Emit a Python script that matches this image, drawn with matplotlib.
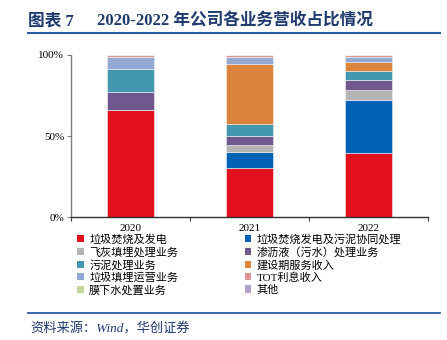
import matplotlib.pyplot as plt
from matplotlib.patches import Patch
from matplotlib.lines import Line2D

# --------------------------------------------------------------------
# DATA (share of revenue, %)
# --------------------------------------------------------------------
years = ['2020', '2021', '2022']
series_names = ['垃圾焚烧及发电', '垃圾焚烧发电及污泥协同处理', '飞灰填埋处理业务',
                '渗沥液（污水）处理业务', '污泥处理业务', '建设期服务收入',
                '垃圾填埋运营业务', 'TOT利息收入', '膜下水处置业务', '其他']
waste_power = [65.8, 30.1, 39.4]
power_sludge = [0.0, 10.2, 32.7]
fly_ash = [0.0, 4.3, 6.4]
leachate = [11.1, 5.3, 6.1]
sludge = [14.1, 7.6, 5.6]
construction = [0.0, 36.5, 5.5]
landfill = [7.4, 4.7, 2.7]
tot_interest = [1.3, 0.9, 1.2]
membrane_water = [0.0, 0.0, 0.2]
other = [0.3, 0.4, 0.2]
yticks = [0, 50, 100]
ytick_labels = ['0%', '50%', '100%']

colors = ['#E3111E', '#0062B7', '#B4B4B4', '#70578D', '#4397AE', '#DC843B',
          '#92A9D3', '#D99594', '#C3D69B', '#B3A2C7']

values = [waste_power, power_sludge, fly_ash, leachate, sludge, construction,
          landfill, tot_interest, membrane_water, other]

# --------------------------------------------------------------------
# PLOT
# --------------------------------------------------------------------
plt.rcParams['font.family'] = ['Liberation Serif', 'Noto Sans CJK SC']
navy = '#1F3A6E'

fig = plt.figure(figsize=(4.47, 3.40), dpi=100)
ax = fig.add_axes([0.159, 0.361, 0.798, 0.478])

x = list(range(len(years)))
bottom = [0.0] * len(years)
for vals, col in zip(values, colors):
    ax.bar(x, vals, width=0.4, bottom=bottom, color=col,
           edgecolor='#F2F2F2', linewidth=0.4)
    bottom = [b + v for b, v in zip(bottom, vals)]

ax.set_xlim(-0.5, 2.5)
ax.set_ylim(0, 100)
ax.set_yticks(yticks)
ax.set_yticklabels(ytick_labels, fontsize=8)
ax.set_xticks([-0.5, 0.5, 1.5, 2.5])
ax.set_xticklabels([])
ax.set_xticks(x, minor=True)
ax.set_xticklabels(years, minor=True, fontsize=8)
ax.tick_params(axis='x', which='major', length=3, width=0.8, color='#404040')
ax.tick_params(axis='x', which='minor', length=0, pad=5)
ax.tick_params(axis='y', length=3, width=0.8, color='#808080', pad=2)
ax.spines['top'].set_visible(False)
ax.spines['right'].set_visible(False)
ax.spines['left'].set_color('#808080')
ax.spines['left'].set_linewidth(1.0)
ax.spines['bottom'].set_color('#303030')
ax.spines['bottom'].set_linewidth(1.0)

# Legend, row-major like the original
handles = [Patch(facecolor=c, edgecolor='none') for c in colors]
order = [0, 2, 4, 6, 8, 1, 3, 5, 7, 9]
fig.legend([handles[i] for i in order], [series_names[i] for i in order],
           ncol=2, loc='upper left', bbox_to_anchor=(0.172, 0.312),
           frameon=False, fontsize=8, handlelength=0.6, handleheight=0.6,
           handletextpad=0.5, columnspacing=6.0, labelspacing=0.18,
           borderaxespad=0, borderpad=0)

# Title and footer
fig.text(0.063, 0.936, '图表 7', fontsize=12, fontweight='bold',
         color=navy, va='center', ha='left')
fig.text(0.217, 0.936, '2020-2022 年公司各业务营收占比情况', fontsize=12,
         fontweight='bold', color=navy, va='center', ha='left')
fig.add_artist(Line2D([0.063, 0.985], [0.902, 0.902], color='#2A5AA0',
                      linewidth=1.5, transform=fig.transFigure))
fig.add_artist(Line2D([0.063, 0.985], [0.080, 0.080], color='#2A5AA0',
                      linewidth=1.3, transform=fig.transFigure))
fig.text(0.067, 0.032, '资料来源：Wind，华创证券', fontsize=9.5,
         color=navy, va='center', ha='left', style='italic')

plt.savefig('out.png', dpi=100)
